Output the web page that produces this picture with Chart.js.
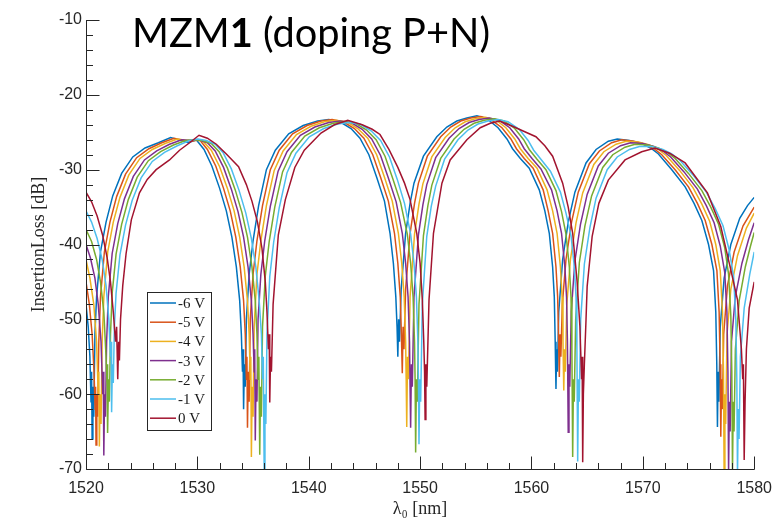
<!DOCTYPE html>
<html><head><meta charset="utf-8">
<script src="https://cdn.jsdelivr.net/npm/chart.js@4.4.1/dist/chart.umd.min.js"></script>
<style>html,body{margin:0;padding:0;background:#fff;}canvas{display:block}</style>
</head><body>
<canvas id="c" width="782" height="519"></canvas>
<script>
// ---- data: [wavelength nm, insertion loss dB] ----
const seriesLabels = ['-6 V','-5 V','-4 V','-3 V','-2 V','-1 V','0 V'];
const seriesColors = ['#0072BD','#D95319','#EDB120','#7E2F8E','#77AC30','#4DBEEE','#A2142F'];
const xTickValues = [1520,1530,1540,1550,1560,1570,1580];
const yTickValues = [-70,-60,-50,-40,-30,-20,-10];

const neg6V = [[1520.0,-48],[1520.2,-51],[1520.35,-55],[1520.45,-61],[1520.5,-57],[1520.55,-66],[1520.62,-59],[1520.7,-63],[1520.8,-52],[1520.95,-47],[1521.3,-41],[1521.8,-37],[1522.4,-33.5],[1523.2,-30.5],[1524.2,-28.3],[1525.3,-27.1],[1526.5,-26.4],[1527.6,-25.7],[1528.5,-26.1],[1529.2,-26.4],[1529.9,-26],[1530.6,-27.3],[1531.3,-29.5],[1532.0,-32.5],[1532.6,-35.5],[1533.1,-39],[1533.5,-43],[1533.8,-47.5],[1533.95,-52],[1534.05,-57],[1534.1,-54],[1534.15,-62],[1534.22,-56],[1534.3,-59],[1534.4,-50],[1534.65,-44],[1535.0,-39.5],[1535.5,-34.8],[1536.2,-30],[1537.0,-27.4],[1538.2,-25.2],[1539.5,-24.1],[1540.8,-23.5],[1541.8,-23.3],[1542.8,-23.6],[1543.8,-24.5],[1544.6,-25.8],[1545.4,-28],[1546.1,-31],[1546.8,-34.2],[1547.3,-38.5],[1547.6,-42.5],[1547.82,-47],[1547.93,-51],[1548.0,-55],[1548.07,-50],[1548.15,-53],[1548.3,-46],[1548.7,-38.5],[1549.1,-34.5],[1549.45,-31.8],[1550.3,-28.2],[1551.5,-25.6],[1552.4,-24.3],[1553.3,-23.5],[1554.2,-23.1],[1555.1,-22.8],[1556.0,-23.2],[1557.0,-24.4],[1557.8,-25.9],[1558.3,-27.2],[1559.0,-28.5],[1559.8,-29.8],[1560.7,-32.7],[1561.2,-35.5],[1561.6,-38.5],[1561.9,-43],[1562.05,-47],[1562.13,-53],[1562.2,-59.3],[1562.26,-54],[1562.33,-57],[1562.45,-49],[1562.8,-42],[1563.3,-37],[1563.9,-33],[1564.9,-29.1],[1565.8,-27.3],[1566.9,-26.2],[1567.7,-25.9],[1568.8,-26.1],[1569.9,-26.5],[1570.7,-27.1],[1571.4,-27.9],[1572.6,-30],[1573.8,-32.3],[1574.6,-34.5],[1575.3,-36.8],[1575.9,-40],[1576.35,-43.5],[1576.55,-49],[1576.64,-56],[1576.7,-64.4],[1576.76,-57],[1576.83,-61],[1576.95,-51],[1577.3,-44.5],[1577.9,-40],[1578.7,-36.5],[1579.4,-34.8],[1580,-33.7]];

const neg5V = [[1520.0,-45],[1520.3,-48],[1520.55,-52],[1520.72,-57],[1520.82,-62],[1520.86,-59],[1520.9,-66.8],[1520.97,-60],[1521.05,-63],[1521.15,-53],[1521.3,-47],[1521.65,-41],[1522.15,-37],[1522.75,-33.6],[1523.55,-30.6],[1524.55,-28.4],[1525.65,-27.2],[1526.8,-26.4],[1527.9,-25.8],[1528.8,-26.1],[1529.5,-26.2],[1530.2,-26],[1530.9,-27.3],[1531.65,-29.5],[1532.35,-32.5],[1532.95,-35.5],[1533.45,-39],[1533.85,-43],[1534.15,-47.5],[1534.3,-52],[1534.4,-58],[1534.45,-55],[1534.5,-64.5],[1534.57,-57],[1534.65,-61],[1534.75,-50],[1535.0,-44],[1535.35,-39.5],[1535.85,-34.8],[1536.55,-30],[1537.35,-27.4],[1538.55,-25.2],[1539.85,-24.1],[1541.1,-23.5],[1542.1,-23.3],[1543.1,-23.6],[1544.1,-24.5],[1544.95,-25.8],[1545.75,-28],[1546.45,-31],[1547.15,-34.2],[1547.7,-38.5],[1548.0,-42.5],[1548.22,-47],[1548.32,-52],[1548.4,-57.2],[1548.47,-51],[1548.55,-54],[1548.7,-46],[1549.1,-38.5],[1549.5,-34.5],[1549.85,-31.8],[1550.65,-28.2],[1551.85,-25.6],[1552.75,-24.3],[1553.65,-23.5],[1554.55,-23.1],[1555.45,-22.9],[1556.35,-23.3],[1557.35,-24.4],[1558.15,-25.9],[1558.65,-27.2],[1559.35,-28.5],[1560.15,-29.8],[1561.05,-32.7],[1561.5,-35.5],[1561.9,-38.5],[1562.2,-43],[1562.35,-47],[1562.43,-52],[1562.5,-57.7],[1562.57,-52],[1562.64,-55],[1562.77,-48],[1563.1,-42],[1563.6,-37],[1564.2,-33],[1565.2,-29.2],[1566.1,-27.5],[1567.2,-26.4],[1568.1,-26],[1569.2,-26.2],[1570.2,-26.6],[1571.0,-27.2],[1571.7,-28],[1572.9,-30],[1574.1,-32.3],[1574.9,-34.5],[1575.6,-36.8],[1576.2,-40],[1576.65,-43.5],[1576.85,-49],[1576.94,-56],[1577.0,-65.7],[1577.07,-58],[1577.14,-62],[1577.26,-52],[1577.6,-45.5],[1578.2,-41],[1579.0,-37.5],[1579.6,-36],[1580,-35]];

const neg4V = [[1520.0,-42],[1520.35,-44.5],[1520.7,-48],[1520.95,-53],[1521.1,-60],[1521.15,-57],[1521.2,-67],[1521.27,-60],[1521.35,-64],[1521.45,-53],[1521.6,-47],[1521.95,-41],[1522.45,-37],[1523.05,-33.7],[1523.85,-30.7],[1524.85,-28.5],[1525.95,-27.3],[1527.1,-26.5],[1528.2,-25.9],[1529.1,-26.1],[1529.7,-26],[1530.5,-26.2],[1531.25,-27.4],[1532.0,-29.6],[1532.7,-32.5],[1533.3,-35.5],[1533.8,-39],[1534.2,-43],[1534.5,-47.5],[1534.65,-52],[1534.75,-58],[1534.8,-55],[1534.85,-68.4],[1534.92,-59],[1535.0,-63],[1535.1,-51],[1535.35,-44],[1535.7,-39.5],[1536.2,-34.8],[1536.9,-30.1],[1537.7,-27.5],[1538.9,-25.3],[1540.2,-24.2],[1541.4,-23.6],[1542.4,-23.4],[1543.4,-23.6],[1544.4,-24.5],[1545.3,-25.8],[1546.1,-28],[1546.8,-31],[1547.5,-34.2],[1548.05,-38.5],[1548.35,-42.5],[1548.57,-47],[1548.7,-53],[1548.75,-58],[1548.8,-64.4],[1548.87,-55],[1548.95,-58],[1549.1,-47],[1549.5,-38.6],[1549.9,-34.6],[1550.25,-31.9],[1551.05,-28.3],[1552.25,-25.7],[1553.15,-24.4],[1554.05,-23.6],[1554.95,-23.2],[1555.85,-23.0],[1556.75,-23.3],[1557.7,-24.4],[1558.5,-25.9],[1559.0,-27.2],[1559.7,-28.5],[1560.5,-29.8],[1561.4,-32.7],[1561.9,-35.5],[1562.3,-38.5],[1562.6,-43],[1562.75,-47],[1562.83,-53],[1562.9,-59.5],[1562.97,-54],[1563.04,-57],[1563.17,-48],[1563.5,-42],[1564.0,-37.1],[1564.6,-33.1],[1565.6,-29.3],[1566.5,-27.6],[1567.6,-26.6],[1568.5,-26.2],[1569.6,-26.3],[1570.6,-26.7],[1571.4,-27.3],[1572.1,-28.1],[1573.3,-30.1],[1574.5,-32.4],[1575.3,-34.6],[1576.0,-36.9],[1576.55,-40],[1576.95,-43.5],[1577.15,-49],[1577.24,-57],[1577.3,-71],[1577.37,-60],[1577.44,-64],[1577.56,-52],[1577.9,-46],[1578.5,-41.5],[1579.3,-37.8],[1580,-35.8]];

const neg3V = [[1520.0,-40],[1520.4,-41.8],[1520.8,-44.5],[1521.1,-48],[1521.35,-53],[1521.5,-60],[1521.55,-57],[1521.6,-68.2],[1521.67,-60],[1521.75,-63],[1521.85,-53],[1522.0,-47],[1522.35,-41.2],[1522.85,-37.2],[1523.45,-33.9],[1524.25,-30.9],[1525.25,-28.7],[1526.35,-27.5],[1527.5,-26.6],[1528.6,-26],[1529.4,-26.1],[1530.1,-26],[1530.9,-26.4],[1531.6,-27.5],[1532.35,-29.7],[1533.05,-32.6],[1533.65,-35.6],[1534.15,-39],[1534.55,-43],[1534.85,-47.5],[1535.0,-52],[1535.1,-57],[1535.15,-54],[1535.2,-66.2],[1535.27,-58],[1535.35,-61],[1535.45,-50],[1535.7,-44],[1536.05,-39.5],[1536.55,-34.9],[1537.25,-30.2],[1538.05,-27.6],[1539.25,-25.4],[1540.55,-24.3],[1541.8,-23.7],[1542.8,-23.5],[1543.8,-23.7],[1544.8,-24.6],[1545.65,-25.9],[1546.45,-28.1],[1547.15,-31.1],[1547.85,-34.3],[1548.4,-38.5],[1548.7,-42.5],[1548.92,-47],[1549.05,-53],[1549.1,-59],[1549.15,-64.5],[1549.22,-56],[1549.3,-59],[1549.45,-47],[1549.85,-38.7],[1550.25,-34.7],[1550.6,-32],[1551.4,-28.4],[1552.6,-25.8],[1553.5,-24.5],[1554.4,-23.7],[1555.3,-23.3],[1556.2,-23.1],[1557.1,-23.4],[1558.05,-24.4],[1558.85,-25.9],[1559.35,-27.2],[1560.05,-28.5],[1560.85,-29.9],[1561.8,-32.7],[1562.3,-35.5],[1562.7,-38.5],[1563.0,-43],[1563.15,-47],[1563.23,-53],[1563.3,-65.1],[1563.37,-56],[1563.44,-59],[1563.57,-49],[1563.9,-42.2],[1564.4,-37.3],[1565.0,-33.3],[1566.0,-29.5],[1566.9,-27.8],[1568.0,-26.8],[1568.9,-26.4],[1570.0,-26.5],[1571.0,-26.9],[1571.8,-27.5],[1572.5,-28.3],[1573.7,-30.3],[1574.9,-32.6],[1575.7,-34.8],[1576.4,-37.1],[1576.95,-40.2],[1577.35,-43.7],[1577.55,-49],[1577.64,-57],[1577.7,-70.5],[1577.77,-61],[1577.84,-65],[1577.96,-53],[1578.3,-47],[1578.9,-42.5],[1579.5,-39.3],[1580,-37.1]];

const neg2V = [[1520.0,-38],[1520.5,-39.6],[1520.95,-42],[1521.3,-45],[1521.6,-49],[1521.8,-55],[1521.9,-59],[1521.93,-56],[1521.95,-65.2],[1522.02,-58],[1522.1,-61],[1522.2,-52],[1522.35,-46.5],[1522.7,-41.3],[1523.2,-37.3],[1523.8,-34],[1524.6,-31],[1525.6,-28.8],[1526.7,-27.6],[1527.85,-26.7],[1528.95,-26.1],[1529.75,-26],[1530.45,-26.1],[1531.25,-26.5],[1531.95,-27.6],[1532.7,-29.8],[1533.4,-32.7],[1534.0,-35.7],[1534.5,-39],[1534.9,-43],[1535.2,-47.5],[1535.35,-52],[1535.45,-58],[1535.52,-55],[1535.6,-68.1],[1535.67,-59],[1535.75,-63],[1535.85,-51],[1536.1,-44.2],[1536.45,-39.6],[1536.95,-35],[1537.65,-30.3],[1538.45,-27.7],[1539.65,-25.5],[1540.95,-24.4],[1542.2,-23.8],[1543.2,-23.6],[1544.2,-23.8],[1545.2,-24.7],[1546.05,-26],[1546.85,-28.2],[1547.55,-31.2],[1548.25,-34.4],[1548.85,-38.6],[1549.15,-42.5],[1549.37,-47],[1549.5,-53],[1549.55,-58],[1549.6,-67.8],[1549.67,-58],[1549.75,-61],[1549.9,-48],[1550.3,-38.8],[1550.7,-34.8],[1551.05,-32.1],[1551.85,-28.5],[1553.05,-25.9],[1553.95,-24.6],[1554.85,-23.8],[1555.75,-23.4],[1556.65,-23.2],[1557.55,-23.5],[1558.5,-24.5],[1559.3,-26],[1559.8,-27.3],[1560.5,-28.6],[1561.3,-30],[1562.2,-32.8],[1562.7,-35.6],[1563.1,-38.6],[1563.4,-43],[1563.55,-47],[1563.63,-54],[1563.7,-68.4],[1563.77,-58],[1563.84,-61],[1563.97,-50],[1564.3,-42.4],[1564.8,-37.5],[1565.4,-33.5],[1566.4,-29.7],[1567.3,-28],[1568.4,-27],[1569.3,-26.6],[1570.4,-26.7],[1571.4,-27.1],[1572.2,-27.7],[1572.9,-28.5],[1574.1,-30.5],[1575.3,-32.8],[1576.1,-35],[1576.8,-37.3],[1577.35,-40.4],[1577.7,-44],[1577.9,-49.5],[1577.99,-57],[1578.05,-70.5],[1578.12,-61],[1578.19,-65],[1578.31,-54],[1578.65,-47.5],[1579.2,-43],[1579.65,-40.3],[1580,-38.4]];

const neg1V = [[1520.0,-35.5],[1520.5,-37],[1521.0,-39.2],[1521.45,-42],[1521.8,-45.5],[1522.05,-50],[1522.2,-55],[1522.25,-53],[1522.3,-62.4],[1522.37,-56],[1522.45,-58.5],[1522.55,-51],[1522.7,-46.5],[1523.05,-41.4],[1523.55,-37.4],[1524.15,-34.1],[1524.95,-31.1],[1525.95,-28.9],[1527.05,-27.7],[1528.2,-26.8],[1529.3,-26.1],[1530.05,-25.9],[1530.8,-26.1],[1531.6,-26.6],[1532.3,-27.7],[1533.05,-29.9],[1533.75,-32.8],[1534.35,-35.8],[1534.85,-39.2],[1535.25,-43],[1535.55,-47.5],[1535.75,-52],[1535.85,-58],[1535.92,-55],[1536.0,-70.5],[1536.07,-60],[1536.15,-64],[1536.25,-52],[1536.5,-44.3],[1536.85,-39.7],[1537.35,-35.1],[1538.05,-30.4],[1538.85,-27.8],[1540.05,-25.6],[1541.35,-24.5],[1542.6,-23.9],[1543.6,-23.7],[1544.6,-23.9],[1545.6,-24.8],[1546.45,-26.1],[1547.25,-28.3],[1547.95,-31.3],[1548.6,-34.5],[1549.15,-38.6],[1549.45,-42.5],[1549.67,-47],[1549.8,-53],[1549.85,-58],[1549.9,-66.7],[1549.97,-58],[1550.05,-61],[1550.2,-48],[1550.6,-38.9],[1551.0,-34.9],[1551.4,-32.2],[1552.2,-28.6],[1553.4,-26],[1554.3,-24.7],[1555.2,-23.9],[1556.1,-23.5],[1557.0,-23.3],[1557.9,-23.6],[1558.9,-24.6],[1559.7,-26.1],[1560.2,-27.4],[1560.9,-28.7],[1561.7,-30.2],[1562.6,-33],[1563.1,-35.8],[1563.55,-38.8],[1563.85,-43],[1564.0,-47],[1564.08,-54],[1564.15,-69],[1564.22,-58],[1564.29,-61],[1564.42,-50],[1564.75,-42.6],[1565.25,-37.7],[1565.8,-33.8],[1566.8,-30],[1567.7,-28.3],[1568.8,-27.3],[1569.7,-26.9],[1570.8,-26.9],[1571.8,-27.3],[1572.6,-27.9],[1573.3,-28.7],[1574.5,-30.7],[1575.7,-33],[1576.5,-35.2],[1577.2,-37.5],[1577.75,-40.7],[1578.15,-44.3],[1578.35,-50],[1578.44,-58],[1578.5,-71],[1578.57,-62],[1578.64,-66],[1578.76,-55],[1579.1,-48.5],[1579.6,-44],[1580,-41]];

const zeroV = [[1520.0,-33],[1520.5,-34.3],[1521.0,-36.2],[1521.5,-38.8],[1521.9,-41.8],[1522.2,-45],[1522.45,-49],[1522.65,-53],[1522.75,-51],[1522.85,-58],[1522.93,-53],[1523.0,-55.5],[1523.1,-50],[1523.3,-45.5],[1523.6,-41.2],[1524.07,-36.7],[1524.8,-33.1],[1525.5,-31.3],[1526.3,-30],[1527.5,-28.7],[1528.4,-27.4],[1529.3,-26.4],[1530.15,-25.4],[1530.9,-25.8],[1531.7,-26.6],[1532.6,-27.9],[1533.7,-29.6],[1534.4,-32],[1534.9,-34.2],[1535.4,-37],[1535.8,-40.5],[1536.1,-45],[1536.25,-49],[1536.38,-54],[1536.45,-52],[1536.5,-61.1],[1536.57,-55],[1536.65,-57],[1536.8,-48],[1537.27,-38.7],[1537.9,-34],[1538.75,-29.7],[1539.6,-27.4],[1541.1,-25.1],[1542.3,-24],[1543.5,-23.4],[1544.8,-24],[1545.7,-24.6],[1546.4,-25.3],[1547.2,-27.3],[1548.0,-29.7],[1548.6,-31.8],[1549.1,-34],[1549.7,-38.5],[1550.0,-42.5],[1550.2,-47.4],[1550.33,-53],[1550.4,-57],[1550.45,-63.4],[1550.52,-56],[1550.6,-59],[1550.8,-47.4],[1551.2,-38.5],[1551.96,-31.8],[1552.7,-28.7],[1554.2,-26],[1555.4,-24.4],[1556.3,-23.8],[1557.15,-23.5],[1558.3,-24.2],[1559.2,-24.8],[1560.4,-25.6],[1561.2,-26.8],[1561.9,-28.2],[1562.8,-31.8],[1563.3,-35],[1563.7,-38.5],[1564.1,-45],[1564.35,-51],[1564.5,-58],[1564.55,-55],[1564.6,-69.1],[1564.66,-60],[1564.75,-56],[1564.9,-50],[1565.0,-45.6],[1565.45,-38.9],[1566.05,-34.5],[1566.9,-31.4],[1568.4,-28.7],[1569.9,-27.6],[1571.1,-27.1],[1572.4,-27.8],[1573.8,-29.1],[1575.8,-33.1],[1577.0,-37.6],[1577.9,-43.4],[1578.5,-47.4],[1578.85,-54],[1578.97,-58],[1579.03,-56],[1579.1,-68.8],[1579.18,-61],[1579.3,-54],[1579.55,-48.5],[1580,-45]];

const seriesData = [neg6V, neg5V, neg4V, neg3V, neg2V, neg1V, zeroV];

// ---- drawing ----
const AX = '#262626';
const decor = {
  id: 'decor',
  afterDraw(chart) {
    const {ctx, chartArea: a, scales: {x, y}} = chart;
    ctx.save();
    ctx.strokeStyle = AX; ctx.lineWidth = 1;
    const L = Math.round(a.left) + 0.5, B = Math.round(a.bottom) + 0.5;
    ctx.beginPath();
    ctx.moveTo(L, Math.round(a.top)); ctx.lineTo(L, B); ctx.lineTo(Math.round(a.right) + 0.5, B);
    for (let v = y.min; v <= y.max; v += 2) {
      const py = Math.round(y.getPixelForValue(v)) + 0.5;
      const len = (Math.abs(v) % 10 === 0) ? 13 : 6.5;
      ctx.moveTo(L, py); ctx.lineTo(L + len, py);
    }
    for (let v = x.min; v <= x.max; v += 2) {
      const px = Math.round(x.getPixelForValue(v)) + 0.5;
      const len = (v % 10 === 0) ? 13 : 6.5;
      ctx.moveTo(px, B); ctx.lineTo(px, B - len);
    }
    ctx.stroke();

    ctx.fillStyle = AX;
    ctx.font = '18px "Liberation Serif", "DejaVu Serif", serif';
    ctx.textAlign = 'center'; ctx.textBaseline = 'alphabetic';
    ctx.fillText('\u03BB\u2080 [nm]', (a.left + a.right) / 2, 514);
    ctx.save();
    ctx.translate(44, (a.top + a.bottom) / 2);
    ctx.rotate(-Math.PI / 2);
    ctx.fillText('InsertionLoss [dB]', 0, 0);
    ctx.restore();

    const lx = 147, ly = 292, lw = 64, lh = 138;
    ctx.fillStyle = '#fff';
    ctx.fillRect(lx, ly, lw, lh);
    ctx.strokeStyle = AX; ctx.lineWidth = 1;
    ctx.strokeRect(lx + 0.5, ly + 0.5, lw, lh);
    ctx.font = '15px "Liberation Serif", "DejaVu Serif", serif';
    ctx.textAlign = 'left'; ctx.textBaseline = 'middle';
    chart.data.datasets.forEach((ds, i) => {
      const ry = 303 + i * 19.2;
      ctx.strokeStyle = ds.borderColor; ctx.lineWidth = 1.5;
      ctx.beginPath(); ctx.moveTo(150, ry); ctx.lineTo(176, ry); ctx.stroke();
      ctx.fillStyle = '#1a1a1a';
      ctx.fillText(ds.label, 178, ry + 1);
    });

    const fam = 'Lato, "Open Sans", sans-serif';
    const parts = [['MZM', 'normal'], ['1', 'bold'], [' (doping P+N)', 'normal']];
    let w = 0;
    parts.forEach(p => { ctx.font = p[1] + ' 40px ' + fam; w += ctx.measureText(p[0]).width; });
    const sx = 358 / w;
    ctx.save();
    ctx.translate(132, 47);
    ctx.scale(sx, 1);
    ctx.fillStyle = '#000'; ctx.textAlign = 'left'; ctx.textBaseline = 'alphabetic';
    let cx = 0;
    parts.forEach(p => { ctx.font = p[1] + ' 40px ' + fam; ctx.fillText(p[0], cx, 0); cx += ctx.measureText(p[0]).width; });
    ctx.restore();
    ctx.restore();
  }
};

const order = [7, 6, 5, 4, 3, 2, 1];
new Chart(document.getElementById('c'), {
  type: 'line',
  data: {
    datasets: seriesData.map((d, i) => ({
      label: seriesLabels[i],
      data: d.map(p => ({x: p[0], y: p[1]})),
      borderColor: seriesColors[i],
      backgroundColor: seriesColors[i],
      borderWidth: 1.5,
      pointRadius: 0,
      tension: 0,
      fill: false,
      order: order[i]
    }))
  },
  options: {
    responsive: false,
    devicePixelRatio: 1,
    animation: false,
    events: [],
    layout: {padding: {left: 0, right: 22, top: 20, bottom: 0}},
    plugins: {legend: {display: false}, tooltip: {enabled: false}, title: {display: false}},
    scales: {
      x: {
        type: 'linear', min: 1520, max: 1580,
        afterFit: s => { s.height = 50; },
        afterBuildTicks: s => { s.ticks = xTickValues.map(v => ({value: v})); },
        grid: {display: false, drawTicks: false},
        border: {display: false},
        ticks: {color: AX, font: {family: '"Liberation Sans", Arial, sans-serif', size: 16}, padding: 10, maxRotation: 0,
                callback: v => String(v)}
      },
      y: {
        type: 'linear', min: -70, max: -10,
        afterFit: s => { s.width = 86; },
        afterBuildTicks: s => { s.ticks = yTickValues.map(v => ({value: v})); },
        grid: {display: false, drawTicks: false},
        border: {display: false},
        ticks: {color: AX, font: {family: '"Liberation Sans", Arial, sans-serif', size: 16}, padding: 4,
                callback: v => String(v)}
      }
    }
  },
  plugins: [decor]
});
</script>
</body></html>
